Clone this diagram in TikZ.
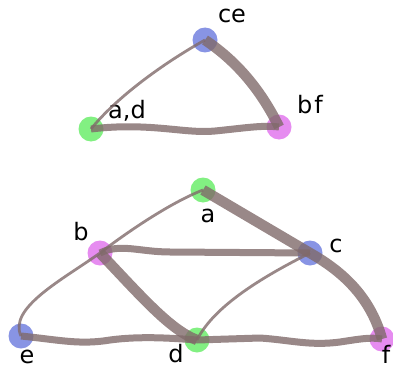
\documentclass[tikz,border=0pt]{standalone}
\usepackage{fontspec}
\setmainfont{DejaVu Sans}
\definecolor{ncgreen}{RGB}{130,240,130}
\definecolor{ncblue}{RGB}{136,148,228}
\definecolor{ncmag}{RGB}{230,140,240}
\definecolor{edgec}{RGB}{128,106,106}
\begin{document}
\begin{tikzpicture}[x=1pt,y=-1pt,
  vtx/.style={circle,inner sep=0pt,minimum size=25pt,draw=none},
  vg/.style={vtx,fill=ncgreen},
  vb/.style={vtx,fill=ncblue},
  vm/.style={vtx,fill=ncmag},
  lbl/.style={anchor=base,inner sep=0pt,font=\fontsize{24}{24}\selectfont},
  ed/.style={draw=edgec,draw opacity=0.8},
  ethin/.style={ed,line width=2.8pt},
  emid/.style={ed,line width=7pt},
  ethick/.style={ed,line width=10.5pt}]
\useasboundingbox (0,0) rectangle (393,369);
% top graph
\node[vg] (ad) at (91,129) {};
\node[vb] (ce) at (205,40) {};
\node[vm] (bf) at (279,127) {};
\node[lbl] (lad) at (127,118) {a,d};
\node[lbl] (lce) at (232,23) {ce};
\node[lbl] (lbf) at (310,113) {b\kern2pt f};
% bottom graph
\node[vg] (a) at (203,190) {};
\node[vm] (b) at (100,253) {};
\node[vb] (c) at (310,253) {};
\node[vg] (d) at (197,340) {};
\node[vb] (e) at (21,336) {};
\node[vm] (f) at (382,339) {};
\node[lbl] (la) at (208,222) {a};
\node[lbl] (lb) at (81,240) {b};
\node[lbl] (lc) at (336,252) {c};
\node[lbl] (ld) at (176,362) {d};
\node[lbl] (le) at (27,363) {e};
\node[lbl] (lf) at (386,363) {f};
% top edges
\draw[ethin] (ad.center) .. controls (116,98) and (162,64) .. (ce.center);
\draw[ethick] (ce.center) .. controls (238,62) and (262,92) .. (bf.center);
\draw[emid] (ad.center) .. controls (150,122) and (185,134) .. (215,131) .. controls (245,128) and (262,125) .. (bf.center);
% bottom edges
\draw[ethin] (a.center) .. controls (172,202) and (130,230) .. (b.center);
\draw[ethick] (a.center) -- (c.center);
\draw[emid] (b.center) .. controls (120,243) and (140,252) .. (170,252) -- (c.center);
\draw[ethick] (b.center) .. controls (140,295) and (170,330) .. (d.center);
\draw[ethin] (b.center) .. controls (62,280) and (8,308) .. (e.center);
\draw[emid] (e.center) .. controls (60,340) and (80,345) .. (110,340) .. controls (140,336) and (170,338) .. (d.center);
\draw[ethin] (d.center) .. controls (212,310) and (252,282) .. (c.center);
\draw[emid] (d.center) -- (260,338) .. controls (290,340) and (310,346) .. (340,342) .. controls (360,339) and (370,337) .. (f.center);
\draw[ethick] (c.center) .. controls (340,270) and (370,295) .. (f.center);
\end{tikzpicture}
\end{document}
